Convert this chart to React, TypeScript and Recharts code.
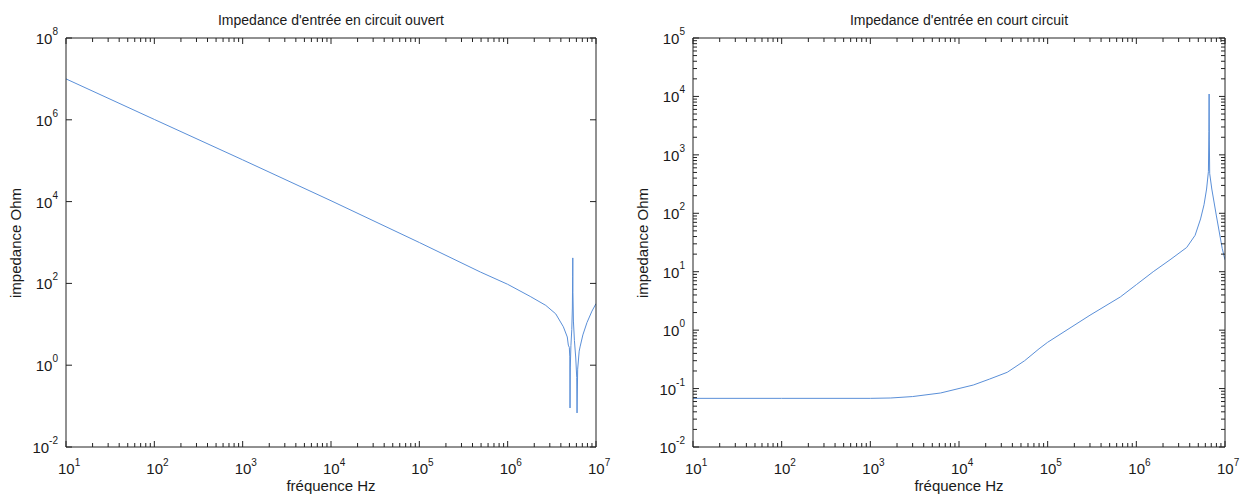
import { LineChart, Line, XAxis, YAxis } from 'recharts';

// open circuit input impedance (Ohm) vs frequency (Hz)
const openFreq = [
  10, 100, 1e3, 1e4, 1e5, 4.9e5, 1e6, 1.8e6, 2.7e6, 3.5e6, 4.27e6, 4.73e6, 4.86e6, 4.99e6,
  5.05e6, 5.08e6, 5.12e6, 5.2e6, 5.32e6, 5.4e6, 5.44e6, 5.46e6, 5.48e6, 5.55e6, 5.7e6,
  5.9e6, 6.05e6, 6.1e6, 6.2e6, 6.45e6, 6.6e6, 7.1e6, 7.9e6, 9e6, 1e7,
];
const openZ = [
  1.0e7, 1.02e6, 1.05e5, 1.05e4, 1.0e3, 190, 95, 48, 29, 18, 8.7, 4.9, 3.1, 2.7,
  1.6, 0.09, 0.9, 3, 7.5, 25, 150, 420, 60, 12, 4,
  1.5, 0.5, 0.068, 0.8, 2.2, 2.8, 5.5, 11, 21, 32,
];

// short circuit input impedance (Ohm) vs frequency (Hz)
const shortFreq = [
  10, 100, 1e3, 1.7e3, 3e3, 6.2e3, 1.45e4, 2.2e4, 3.5e4, 5.5e4, 8e4, 1e5, 3e5, 6.6e5, 1e6,
  1.55e6, 2.4e6, 3.7e6, 4.6e6, 5.3e6, 5.8e6, 6.2e6, 6.5e6, 6.58e6, 6.62e6, 6.66e6, 6.72e6,
  7.1e6, 8e6, 9.3e6, 1e7,
];
const shortZ = [
  0.068, 0.068, 0.068, 0.069, 0.073, 0.084, 0.115, 0.145, 0.19, 0.3, 0.48, 0.62, 1.8, 3.7, 6,
  10, 16, 26, 42, 80, 140, 260, 520, 2500, 11000, 1800, 480,
  260, 90, 25, 16,
];

const freqDecades = [1, 2, 3, 4, 5, 6, 7];
const openZDecades = [-2, 0, 2, 4, 6, 8];
const shortZDecades = [-2, -1, 0, 1, 2, 3, 4, 5];

const FONT = '"Liberation Sans", Arial, Helvetica, sans-serif';
const LINE = '#5a8fd8';
const AXIS = '#222';
const TXT = '#1a1a1a';

// decade ticks plus 2..9 minors between consecutive decades
function logTicks(decades: number[], minors: boolean) {
  const out: number[] = [];
  decades.forEach((d, i) => {
    out.push(Math.pow(10, d));
    if (minors && i < decades.length - 1) {
      for (let m = 2; m <= 9; m++) out.push(m * Math.pow(10, d));
    }
  });
  return out;
}

function isMajor(v: number) {
  const l = Math.log10(v);
  return Math.abs(l - Math.round(l)) < 1e-9;
}

const XTick = (props: any) => {
  const { x, y, payload, side } = props;
  const v = payload.value;
  const major = isMajor(v);
  const len = major ? 6 : 4;
  const dir = side === 'bottom' ? -1 : 1;
  return (
    <g>
      <line x1={x} x2={x} y1={y} y2={y + dir * len} stroke={AXIS} strokeWidth={1} />
      {major && side === 'bottom' && (
        <text x={x - 8} y={y + 27} fontSize={15} fontFamily={FONT} fill={TXT}>
          10
          <tspan dy={-8} fontSize={10}>{Math.round(Math.log10(v))}</tspan>
        </text>
      )}
    </g>
  );
};

const YTick = (props: any) => {
  const { x, y, payload, side } = props;
  const v = payload.value;
  const major = isMajor(v);
  const len = major ? 6 : 4;
  const dir = side === 'left' ? 1 : -1;
  return (
    <g>
      <line x1={x} x2={x + dir * len} y1={y} y2={y} stroke={AXIS} strokeWidth={1} />
      {major && side === 'left' && (
        <text x={x - 8} y={y + 6} textAnchor="end" fontSize={15} fontFamily={FONT} fill={TXT}>
          10
          <tspan dy={-9} fontSize={10}>{Math.round(Math.log10(v))}</tspan>
        </text>
      )}
    </g>
  );
};

interface PanelProps {
  title: string;
  freq: number[];
  z: number[];
  zDecades: number[];
  zMinors: boolean;
  left: number;
  width: number;
  marginLeft: number;
  plotWidth: number;
}

function Panel({ title, freq, z, zDecades, zMinors, left, width, marginLeft, plotWidth }: PanelProps) {
  const data = freq.map((f, i) => ({ f, z: z[i] }));
  const xTicks = logTicks(freqDecades, true);
  const yTicks = logTicks(zDecades, zMinors);
  const yDomain = [Math.pow(10, zDecades[0]), Math.pow(10, zDecades[zDecades.length - 1])];
  const plotTop = 38;
  const plotBottom = 447;
  const cx = marginLeft + plotWidth / 2;
  const axisProps = {
    type: 'number' as const,
    scale: 'log' as const,
    allowDataOverflow: true,
    interval: 0 as const,
    tickSize: 0,
    tickMargin: 0,
    stroke: AXIS,
  };
  return (
    <div
      style={{
        position: 'absolute',
        left,
        top: 0,
        width,
        height: 498,
        fontFamily: FONT,
        color: TXT,
      }}
    >
      <LineChart
        width={width}
        height={498}
        data={data}
        margin={{
          top: plotTop - 10,
          bottom: 498 - plotBottom - 10,
          left: marginLeft - 10,
          right: width - marginLeft - plotWidth - 10,
        }}
      >
        <XAxis
          {...axisProps}
          dataKey="f"
          domain={[10, 1e7]}
          ticks={xTicks}
          height={10}
          tick={(p: any) => <XTick {...p} side="bottom" />}
        />
        <XAxis
          {...axisProps}
          xAxisId="top"
          orientation="top"
          dataKey="f"
          domain={[10, 1e7]}
          ticks={xTicks}
          height={10}
          tick={(p: any) => <XTick {...p} side="top" />}
        />
        <YAxis
          {...axisProps}
          domain={yDomain}
          ticks={yTicks}
          width={10}
          tick={(p: any) => <YTick {...p} side="left" />}
        />
        <YAxis
          {...axisProps}
          yAxisId="right"
          orientation="right"
          domain={yDomain}
          ticks={yTicks}
          width={10}
          tick={(p: any) => <YTick {...p} side="right" />}
        />
        <Line
          type="linear"
          dataKey="z"
          stroke={LINE}
          strokeWidth={1}
          dot={false}
          activeDot={false}
          isAnimationActive={false}
        />
      </LineChart>
      <div
        style={{
          position: 'absolute',
          left: cx - 200,
          width: 400,
          top: 11,
          textAlign: 'center',
          fontSize: 14,
          lineHeight: '18px',
        }}
      >
        {title}
      </div>
      <div
        style={{
          position: 'absolute',
          left: cx - 100,
          width: 200,
          top: 477,
          textAlign: 'center',
          fontSize: 15,
          lineHeight: '18px',
        }}
      >
        fréquence Hz
      </div>
      <div
        style={{
          position: 'absolute',
          left: marginLeft - 50 - 100,
          width: 200,
          top: (plotTop + plotBottom) / 2 - 9,
          textAlign: 'center',
          fontSize: 15,
          lineHeight: '18px',
          transform: 'rotate(-90deg)',
        }}
      >
        impedance Ohm
      </div>
    </div>
  );
}

export default function App() {
  return (
    <div style={{ position: 'absolute', left: 0, top: 0, width: 1244, height: 498, background: '#fff' }}>
      <Panel
        title="Impedance d'entrée en circuit ouvert"
        freq={openFreq}
        z={openZ}
        zDecades={openZDecades}
        zMinors={false}
        left={0}
        width={620}
        marginLeft={66}
        plotWidth={530}
      />
      <Panel
        title="Impedance d'entrée en court circuit"
        freq={shortFreq}
        z={shortZ}
        zDecades={shortZDecades}
        zMinors={true}
        left={620}
        width={624}
        marginLeft={73}
        plotWidth={532}
      />
    </div>
  );
}
